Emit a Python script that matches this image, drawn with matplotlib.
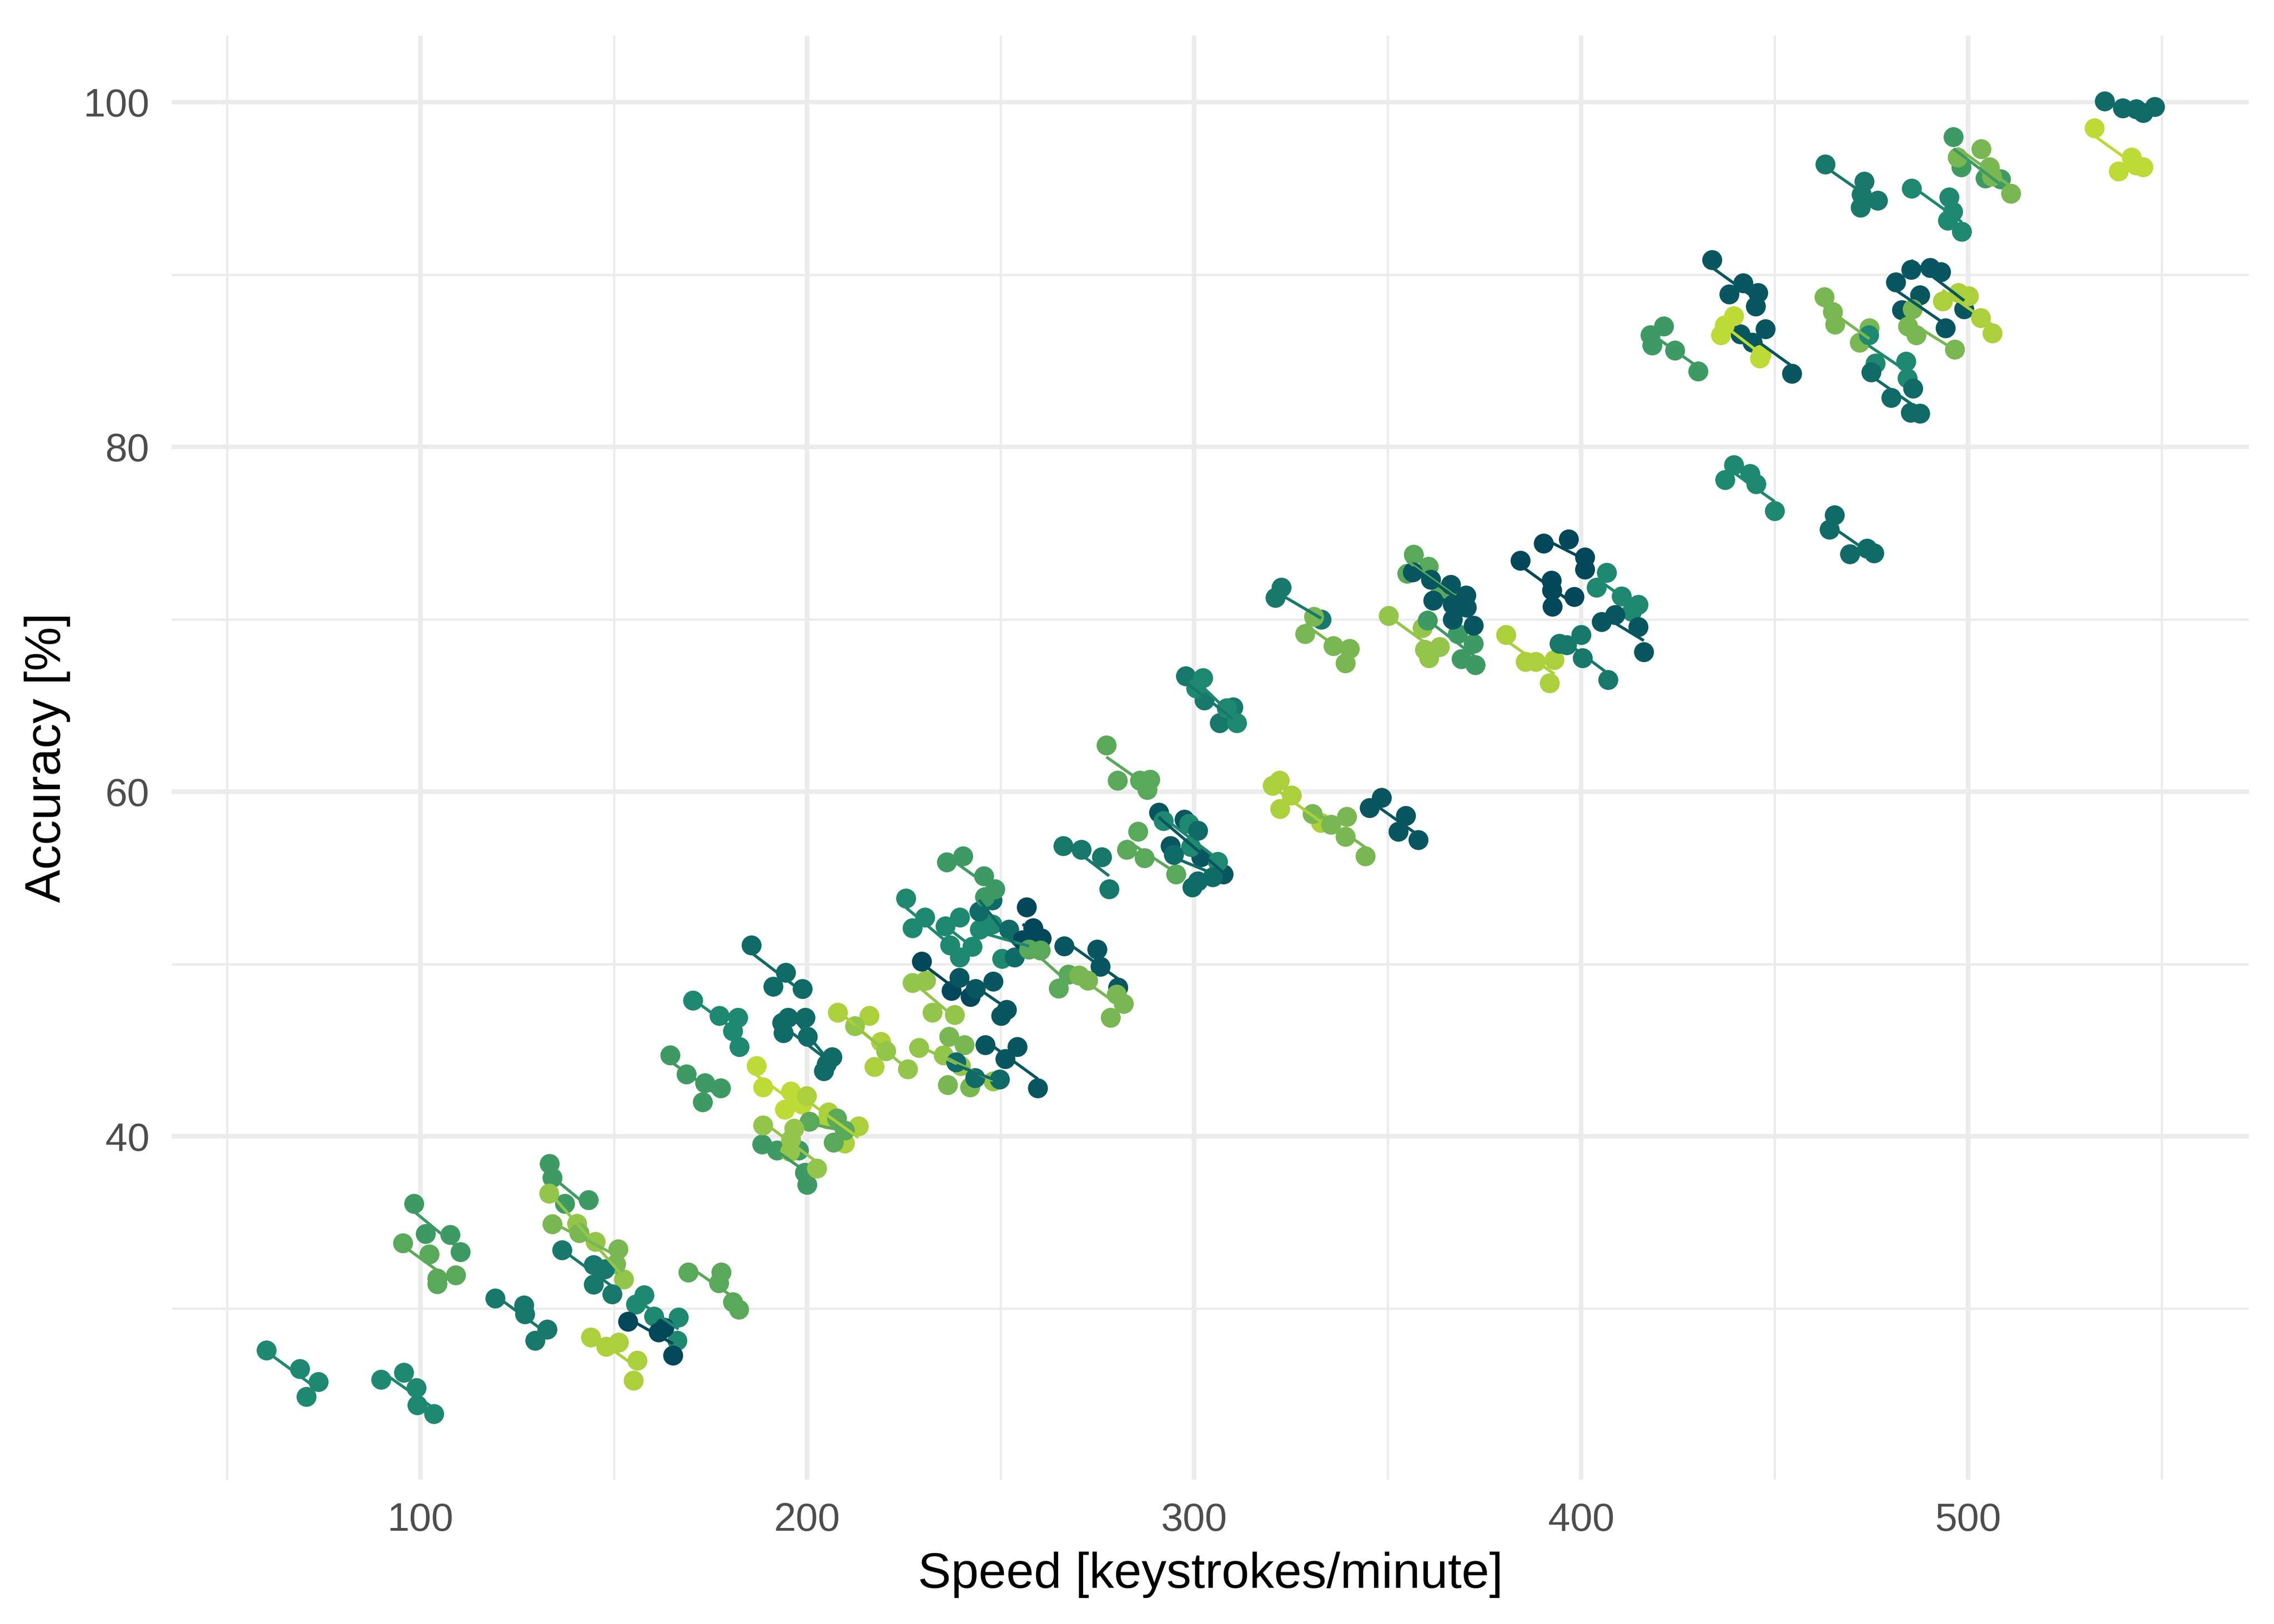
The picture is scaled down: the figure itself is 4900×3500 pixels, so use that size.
import numpy as np
import matplotlib.pyplot as plt

# one list per participant: speed (keystrokes/minute) and accuracy (%) per session
SPEED = [
    [60.2, 68.8, 73.7, 70.5],
    [89.8, 95.7, 98.9, 99.2, 103.5],
    [98.4, 101.4, 107.7, 110.4],
    [95.5, 102.3, 109.2, 104.4, 104.3],
    [119.4, 126.8, 127.0, 132.8, 129.7],
    [133.4, 134.1, 143.4, 137.3],
    [133.3, 140.4, 145.3, 152.6],
    [134.1, 141.0, 151.1, 150.5],
    [136.6, 144.8, 147.6, 144.8, 149.6],
    [157.9, 155.7, 160.4, 166.7, 166.4],
    [153.6, 161.6, 163.0, 165.3],
    [144.1, 148.0, 151.3, 156.1, 155.1],
    [169.2, 177.7, 177.2, 180.7, 182.3],
    [164.6, 168.8, 173.6, 177.6, 173.0],
    [170.4, 177.3, 182.1, 180.7, 182.4],
    [185.5, 194.4, 191.2, 198.8],
    [195.0, 199.5, 206.4, 204.3],
    [193.5, 193.8, 200.1, 205.0],
    [186.9, 188.5, 195.8, 194.2, 198.6],
    [199.8, 205.4, 205.2, 213.2, 209.6],
    [188.3, 192.1, 197.8, 199.3, 199.9],
    [200.6, 207.6, 209.6, 206.8],
    [188.5, 196.6, 195.8, 195.5, 202.5],
    [207.8, 216.0, 219.0, 217.3],
    [212.3, 220.3, 226.0],
    [227.2, 230.6, 232.3, 238.1],
    [229.6, 237.2, 242.1],
    [239.3, 243.5, 248.0, 251.5, 250.1],
    [228.9, 235.2, 239.6, 248.0],
    [236.7, 240.6, 236.3, 242.0],
    [246.0, 254.3, 251.1, 259.6],
    [238.5, 243.4, 249.7],
    [225.5, 230.4, 227.2, 236.9],
    [235.7, 239.4, 242.6, 239.4],
    [244.6, 247.8, 250.3, 257.3],
    [244.4, 247.8, 252.1, 253.6],
    [256.7, 258.3, 260.5, 255.6],
    [236.0, 240.2, 245.6, 248.5, 245.9],
    [266.4, 274.9, 275.7, 280.3],
    [257.3, 260.3, 265.0, 267.5],
    [270.2, 272.5, 279.9, 281.7, 278.4],
    [266.1, 270.8, 276.1, 278.0],
    [297.8, 302.6, 310.1, 306.6],
    [302.2, 300.4, 308.4, 311.0],
    [277.3, 280.2, 285.9, 288.6, 287.9],
    [322.0, 320.2, 325.1, 322.2, 332.7],
    [330.6, 339.4, 335.4, 339.1, 344.2],
    [348.4, 345.3, 354.7, 352.8, 357.9],
    [285.5, 282.6, 287.1, 295.3],
    [290.8, 297.4, 293.8, 301.8, 307.5],
    [292.1, 298.7, 299.1, 306.1],
    [300.9, 294.7, 304.8, 299.5, 300.9],
    [322.5, 320.9, 332.8],
    [330.9, 328.6, 336.0, 340.1, 339.1],
    [350.2, 359.0, 359.6, 363.4, 360.7],
    [360.3, 368.1, 372.2, 369.1, 372.6],
    [356.7, 360.5, 355.0, 363.8, 367.2],
    [356.5, 366.3, 370.3, 372.2],
    [361.1, 361.7, 366.8, 370.4, 366.8],
    [380.6, 385.6, 388.3, 393.1, 391.9],
    [390.3, 396.7, 401.0, 401.0],
    [384.3, 392.3, 392.5, 398.2, 392.6],
    [406.6, 404.0, 410.4, 414.7, 413.1],
    [405.3, 408.7, 414.8, 416.2],
    [394.4, 396.3, 400.0, 400.3, 406.9],
    [433.8, 441.9, 438.2, 445.7, 445.1],
    [441.1, 447.6, 444.2, 454.5],
    [439.5, 437.1, 436.1, 446.5, 446.2],
    [421.3, 417.9, 418.4, 424.2, 430.2],
    [439.4, 437.2, 443.6, 445.2, 450.0],
    [535.3, 540.0, 543.4, 545.3, 548.2],
    [532.6, 542.2, 538.9, 545.3, 543.4],
    [496.2, 498.2, 504.5, 508.4],
    [497.3, 503.4, 505.5, 506.1, 511.1],
    [463.1, 473.2, 472.5, 476.6, 472.2],
    [485.4, 495.1, 496.1, 494.8, 498.4],
    [485.3, 490.2, 492.9, 499.0],
    [481.3, 487.5, 482.9, 494.2],
    [493.4, 497.5, 500.1, 503.3, 506.3],
    [462.8, 465.0, 465.6, 474.5, 472.0],
    [485.6, 484.4, 486.6, 496.5],
    [474.3, 476.0, 483.9, 484.3],
    [475.0, 485.7, 480.1, 485.1, 487.5],
    [465.5, 464.2, 469.5, 473.9, 475.7],
]

ACCURACY = [
    [27.6, 26.5, 25.75, 24.9],
    [25.9, 26.3, 25.4, 24.4, 23.9],
    [36.1, 34.35, 34.3, 33.3],
    [33.8, 33.15, 31.95, 31.45, 31.75],
    [30.6, 30.2, 29.7, 28.8, 28.15],
    [38.4, 37.6, 36.3, 36.1],
    [36.7, 34.95, 33.9, 31.7],
    [34.9, 34.4, 33.45, 32.6],
    [33.4, 32.55, 32.3, 31.4, 30.85],
    [30.8, 30.25, 29.55, 29.5, 28.15],
    [29.25, 28.65, 28.9, 27.3],
    [28.35, 27.8, 28.05, 27.0, 25.85],
    [32.1, 32.1, 31.5, 30.4, 29.95],
    [44.7, 43.6, 43.1, 42.8, 42.0],
    [47.9, 47.0, 46.9, 46.1, 45.2],
    [51.1, 49.5, 48.7, 48.55],
    [46.9, 46.9, 44.6, 43.8],
    [46.6, 46.0, 45.8, 44.2],
    [44.1, 42.85, 42.6, 41.55, 41.85],
    [42.35, 41.4, 41.0, 40.6, 39.6],
    [39.55, 39.2, 39.2, 37.9, 37.2],
    [40.85, 41.05, 40.35, 39.65],
    [40.65, 40.45, 39.8, 39.1, 38.15],
    [47.2, 47.0, 45.5, 44.05],
    [46.4, 44.95, 43.9],
    [48.9, 49.05, 47.2, 47.05],
    [50.15, 48.45, 48.1],
    [49.2, 48.55, 49.0, 47.35, 47.0],
    [45.15, 44.7, 44.1, 43.2],
    [45.8, 45.3, 43.0, 42.85],
    [45.3, 45.2, 44.5, 42.8],
    [44.3, 43.4, 43.3],
    [53.8, 52.7, 52.1, 51.1],
    [52.2, 52.7, 51.0, 50.4],
    [52.0, 52.3, 50.3, 51.4],
    [53.05, 53.7, 52.0, 50.4],
    [53.3, 52.1, 51.5, 51.4],
    [55.9, 56.25, 55.1, 54.35, 53.9],
    [51.05, 50.85, 49.85, 48.65],
    [50.85, 50.8, 48.6, 49.4],
    [49.35, 49.05, 48.25, 47.7, 46.9],
    [56.85, 56.65, 56.2, 54.35],
    [66.7, 65.3, 64.9, 64.0],
    [66.6, 66.0, 64.85, 64.0],
    [62.7, 60.65, 60.65, 60.7, 60.1],
    [60.65, 60.35, 59.8, 59.0, 58.2],
    [58.7, 58.55, 58.1, 57.4, 56.25],
    [59.65, 59.05, 58.6, 57.7, 57.2],
    [57.7, 56.65, 56.15, 55.2],
    [58.8, 58.4, 56.85, 56.2, 55.2],
    [58.3, 58.15, 56.8, 55.95],
    [57.75, 56.35, 55.05, 54.45, 54.8],
    [71.85, 71.25, 70.0],
    [70.15, 69.15, 68.45, 68.3, 67.45],
    [70.2, 69.5, 68.25, 68.4, 67.75],
    [69.95, 69.15, 68.6, 67.7, 67.35],
    [73.75, 73.05, 72.65, 71.55, 71.35],
    [72.75, 72.0, 71.4, 69.65],
    [72.3, 71.1, 70.85, 70.7, 70.0],
    [69.1, 67.55, 67.55, 67.65, 66.3],
    [74.4, 74.65, 73.6, 72.9],
    [73.4, 72.25, 71.7, 71.3, 70.75],
    [72.7, 71.85, 71.35, 70.85, 70.45],
    [69.85, 70.25, 69.55, 68.1],
    [68.6, 68.5, 69.1, 67.75, 66.5],
    [90.85, 89.5, 88.85, 88.95, 88.15],
    [86.55, 86.85, 86.05, 84.25],
    [87.6, 87.05, 86.5, 85.35, 85.15],
    [87.0, 86.5, 85.9, 85.6, 84.4],
    [78.95, 78.1, 78.45, 77.85, 76.3],
    [100.05, 99.65, 99.6, 99.4, 99.75],
    [98.5, 96.8, 96.0, 96.25, 96.35],
    [98.0, 96.25, 95.6, 95.55],
    [96.8, 97.3, 96.25, 95.7, 94.7],
    [96.4, 95.4, 94.65, 94.3, 93.9],
    [95.0, 94.5, 93.65, 93.15, 92.5],
    [90.3, 90.4, 90.15, 88.0],
    [89.55, 88.8, 87.95, 86.9],
    [88.45, 88.95, 88.75, 87.5, 86.6],
    [88.7, 87.85, 87.1, 86.9, 86.05],
    [88.0, 87.0, 86.5, 85.65],
    [86.5, 84.85, 84.95, 84.0],
    [84.35, 83.4, 82.85, 82.0, 81.95],
    [76.05, 75.2, 73.8, 74.1, 73.85],
]

# colour step of each participant (0 = darkest teal, 10 = yellow)
SHADE = [
    4, 4, 5, 6, 3, 5, 8, 7, 3, 4, 0, 9, 6,
    5, 4, 2, 2, 2, 10, 9, 5, 6, 8, 9, 8, 8, 0, 1, 8, 7, 1, 2,
    4, 4, 4, 2, 0, 5, 1, 6, 7, 3,
    3, 4, 6, 9, 7, 1, 6, 1, 4, 2,
    3, 7, 8, 5, 6, 1, 1, 9, 0, 0, 4, 1, 3,
    1, 1, 10, 5, 4,
    2, 10, 5, 7, 3, 4, 1, 1, 9, 7, 7, 4, 2, 2,
]

PALETTE = ['#02475A', '#08565F', '#106A68', '#17786B', '#1F8870', '#3E9A63',
           '#5AA85A', '#78B751', '#93C54A', '#ABD03C', '#BDDA36']

plt.rcParams['font.family'] = ['Liberation Sans', 'DejaVu Sans']

fig, ax = plt.subplots(figsize=(7, 5), dpi=700)
fig.subplots_adjust(left=0.0756, right=0.989, bottom=0.089, top=0.978)

for xs, ys, sh in zip(SPEED, ACCURACY, SHADE):
    ax.scatter(xs, ys, s=19.5, color=PALETTE[sh], linewidths=0, zorder=3)
for xs, ys, sh in zip(SPEED, ACCURACY, SHADE):
    # per-participant linear fit, like geom_smooth(method = "lm")
    k, b = np.polyfit(xs, ys, 1)
    xx = np.array([min(xs), max(xs)])
    ax.plot(xx, k * xx + b, color=PALETTE[sh], lw=0.65, zorder=4,
            solid_capstyle='butt')

all_x = np.concatenate([np.array(v) for v in SPEED])
all_y = np.concatenate([np.array(v) for v in ACCURACY])
dx = (all_x.max() - all_x.min()) * 0.05
dy = (all_y.max() - all_y.min()) * 0.05
ax.set_xlim(all_x.min() - dx, all_x.max() + dx)
ax.set_ylim(all_y.min() - dy, all_y.max() + dy)

ax.set_xticks([100, 200, 300, 400, 500])
ax.set_xticks([50, 150, 250, 350, 450, 550], minor=True)
ax.set_yticks([40, 60, 80, 100])
ax.set_yticks([30, 50, 70, 90], minor=True)
ax.grid(which='major', color='#EBEBEB', lw=1.0)
ax.grid(which='minor', color='#EBEBEB', lw=0.5)
ax.set_axisbelow(True)
ax.tick_params(which='both', length=0, pad=5, labelsize=8.8, labelcolor='#4D4D4D')
for sp in ax.spines.values():
    sp.set_visible(False)

ax.set_xlabel('Speed [keystrokes/minute]', fontsize=11, labelpad=2.75)
ax.set_ylabel('Accuracy [%]', fontsize=11, labelpad=2.75)

fig.savefig('out.png', dpi=700)
